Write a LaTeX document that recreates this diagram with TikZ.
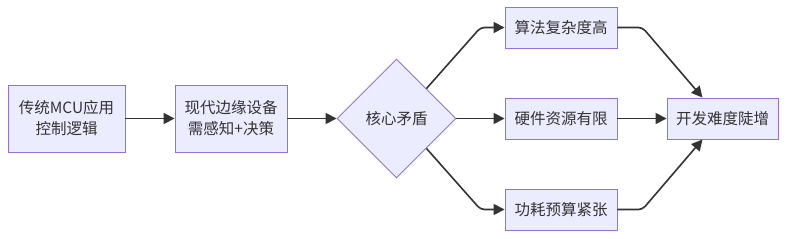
\documentclass[tikz,border=0pt]{standalone}
\usepackage{fontspec}
\setmainfont{Noto Sans CJK SC}
\usepackage{tikz}
\usetikzlibrary{positioning,arrows.meta,shapes.geometric,calc}
\definecolor{NodeFill}{HTML}{ECECFF}
\definecolor{NodeLine}{HTML}{9370DB}
\definecolor{EdgeDark}{HTML}{333333}

\begin{document}
\begin{tikzpicture}[x=1pt,y=1pt,
          every node/.style={font=\fontsize{15.5}{21}\selectfont, text=EdgeDark},
          box/.style={draw=NodeLine, fill=NodeFill, line width=0.9pt,
            inner sep=0pt, align=center, minimum height=41pt, minimum width=112pt},
          ar/.style={-{Triangle[length=11pt,width=11pt]}, line width=1.6pt,
            EdgeDark, rounded corners=4pt}]
        \useasboundingbox (0,0) rectangle (786,-238);
        \node[box, minimum width=117pt, minimum height=67pt]
        (mcu)  at (66.5,-118.5)  {传统MCU应用\\控制逻辑};
        \node[box, minimum height=67pt]
        (edge) at (231,-118.5)   {现代边缘设备\\需感知+决策};
        \node[draw=NodeLine, fill=NodeFill, line width=0.9pt, diamond,
          inner sep=0pt, minimum width=119pt, minimum height=119pt]
        (core) at (396.5,-118.5) {核心矛盾};
        \node[box] (algo) at (561,-27.5)  {算法复杂度高};
        \node[box] (hw)   at (561,-118.5) {硬件资源有限};
        \node[box] (pwr)  at (561,-209.5) {功耗预算紧张};
        \node[box, minimum width=111pt]
        (dev)  at (722.5,-118.5) {开发难度陡增};

        \draw[ar] (mcu.east) -- (edge.west);
        \draw[ar] (edge.east) -- (core.west);
        \draw[ar] (core.north east) -- ($(algo.west)+(-24,0)$) -- (algo.west);
        \draw[ar] (core.east) -- (hw.west);
        \draw[ar] (core.south east) -- ($(pwr.west)+(-24,0)$) -- (pwr.west);
        \draw[ar] (algo.east) -- ++(25,0) -- ($(dev.north)+(-20,0)$);
        \draw[ar] (hw.east) -- (dev.west);
        \draw[ar] (pwr.east) -- ++(25,0) -- ($(dev.south)+(-20,0)$);
      \end{tikzpicture}
\end{document}
